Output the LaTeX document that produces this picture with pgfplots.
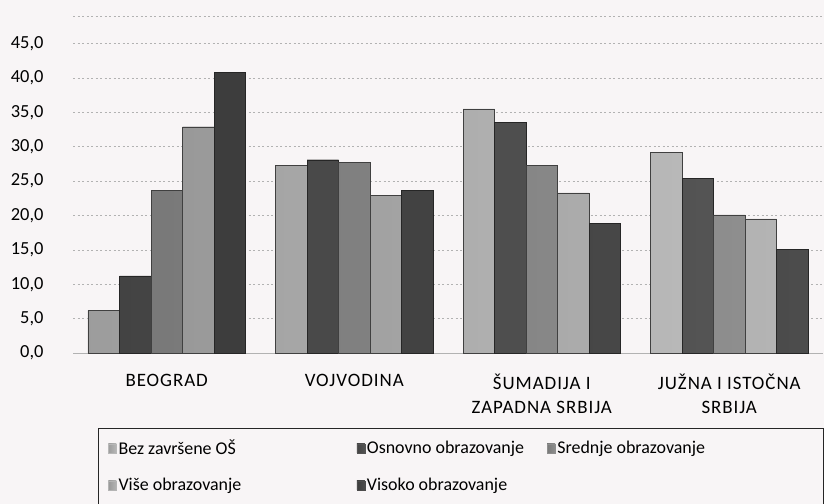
\documentclass[border=0pt]{standalone}
\usepackage{pgfplots}
\pgfplotsset{compat=1.18}
\usepackage{fontspec}
\setmainfont{Carlito}
\newfontfamily\lblfont[LetterSpace=5]{Carlito}
\definecolor{bgc}{HTML}{F8F5F6}
\definecolor{cA}{HTML}{B8B8B8}
\definecolor{cB}{HTML}{545454}
\definecolor{cC}{HTML}{8E8E8E}
\definecolor{cD}{HTML}{B4B4B4}
\definecolor{cE}{HTML}{4C4C4C}
\begin{document}
\begin{tikzpicture}
\path[use as bounding box, fill=bgc] (0,0) rectangle (824bp,-504bp);
\begin{axis}[
  at={(73bp,-353bp)}, anchor=south west,
  scale only axis, width=750bp, height=337bp,
  xmin=-0.5, xmax=3.5, ymin=0, ymax=49,
  ybar=0pt, bar width=31.5bp,
  axis y line*=left, axis x line*=bottom,
  y axis line style={draw=none},
  x axis line style={draw=black!30, -},
  xtick={0,1,2,3}, xtick style={draw=none}, ytick style={draw=none},
  xticklabels={BEOGRAD, VOJVODINA, {ŠUMADIJA I\\ZAPADNA SRBIJA}, {JUŽNA I ISTOČNA\\SRBIJA}},
  xticklabel style={align=center, font=\lblfont\fontsize{19}{24.5}\selectfont, yshift=-13bp},
  ytick={0,5,...,45},
  yticklabels={{0,0},{5,0},{10,0},{15,0},{20,0},{25,0},{30,0},{35,0},{40,0},{45,0}},
  yticklabel style={font=\fontsize{18.5}{20}\selectfont, xshift=-26bp},
  /pgf/number format/assume math mode=true,
  ymajorgrids, major grid style={draw=black!30, dash pattern=on 2bp off 2.5bp},
  extra y ticks={49}, extra y tick labels={}, extra y tick style={grid=major, major grid style={draw=black!30, dash pattern=on 2bp off 2.5bp}},
  legend columns=3,
  legend style={at={(0.0333,-0.2226)}, anchor=north west, draw=black!85, fill=bgc,
    font=\fontsize{18}{21}\selectfont, inner xsep=10bp, inner ysep=10bp, row sep=18bp,
    /tikz/every even column/.append style={column sep=0pt}},
  legend cell align=left,
]
\addplot[draw=black!75, left color=cA!85!black, middle color=cA!80!white, right color=cA, legend image code/.code={\fill[cA] (0bp,-4.5bp) rectangle (8bp,4.5bp);}] coordinates {(0,6.2) (1,27.3) (2,35.5) (3,29.2)};
\addlegendentry{\makebox[236bp][l]{Bez završene OŠ}}
\addplot[draw=black!85, left color=cB!80!black, middle color=cB!85!white, right color=cB, legend image code/.code={\fill[cB] (0bp,-4.5bp) rectangle (8bp,4.5bp);}] coordinates {(0,11.2) (1,28.1) (2,33.5) (3,25.4)};
\addlegendentry{\makebox[178bp][l]{Osnovno obrazovanje}}
\addplot[draw=black!75, left color=cC!85!black, middle color=cC!85!white, right color=cC, legend image code/.code={\fill[cC] (0bp,-4.5bp) rectangle (8bp,4.5bp);}] coordinates {(0,23.7) (1,27.7) (2,27.3) (3,20.1)};
\addlegendentry{\makebox[254bp][l]{Srednje obrazovanje}}
\addplot[draw=black!75, left color=cD!85!black, middle color=cD!80!white, right color=cD, legend image code/.code={\fill[cD] (0bp,-4.5bp) rectangle (8bp,4.5bp);}] coordinates {(0,32.9) (1,22.9) (2,23.3) (3,19.5)};
\addlegendentry{Više obrazovanje}
\addplot[draw=black!85, left color=cE!80!black, middle color=cE!85!white, right color=cE, legend image code/.code={\fill[cE] (0bp,-4.5bp) rectangle (8bp,4.5bp);}] coordinates {(0,40.8) (1,23.7) (2,18.9) (3,15.1)};
\addlegendentry{Visoko obrazovanje}
\end{axis}
\end{tikzpicture}
\end{document}
